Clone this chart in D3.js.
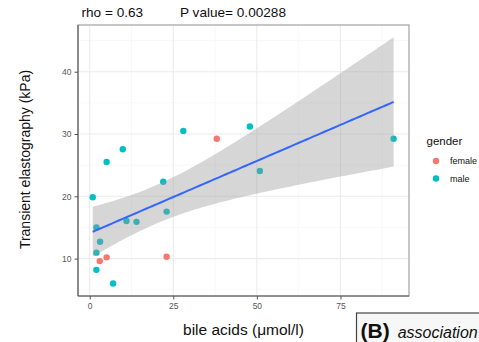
<!DOCTYPE html>
<html><head><meta charset="utf-8">
<script src="https://cdn.jsdelivr.net/npm/d3@7"></script>
<style>body{margin:0;background:#fff;} svg{display:block;font-family:"Liberation Sans",Arial,sans-serif;}</style>
</head><body>
<svg id="c" width="479" height="342"></svg>
<script>
// data
const bileAcids = [5.06, 9.9, 28.0, 38.0, 0.9, 22.0, 2.0, 11.0, 14.0, 23.0, 3.1, 2.0, 5.06, 3.0, 23.0, 2.0, 7.0, 47.9, 50.9, 90.9];
const elasto    = [25.5, 27.55, 30.5, 29.25, 19.85, 22.35, 15.0, 16.05, 15.9, 17.55, 12.7, 10.96, 10.2, 9.6, 10.3, 8.2, 6.0, 31.2, 24.07, 29.25];
const gender    = ["male","male","male","female","male","male","male","male","male","male","male","male","female","female","female","male","male","male","male","male"];
const genderLevels = ["female","male"];
const xTicks = [0, 25, 50, 75];
const yTicks = [10, 20, 30, 40];
const rhoText = "rho = 0.63";
const pText = "P value= 0.00288";

const svg = d3.select("#c");
const P = {l:78, r:409, t:25, b:296};
const x = d3.scaleLinear().domain([-3.5, 95.5]).range([P.l, P.r]);
const y = d3.scaleLinear().domain([4.0, 47.5]).range([P.b, P.t]);
const color = d3.scaleOrdinal().domain(genderLevels).range(["#F8766D", "#00BFC4"]);

// grid
const g = svg.append("g");
g.append("rect").attr("x",P.l).attr("y",P.t).attr("width",P.r-P.l).attr("height",P.b-P.t).attr("fill","#fff");
const xMinor = [12.5, 37.5, 62.5, 87.5], yMinor = [5, 15, 25, 35, 45];
g.selectAll(".xm").data(xMinor).enter().append("line").attr("x1",d=>x(d)).attr("x2",d=>x(d)).attr("y1",P.t).attr("y2",P.b).attr("stroke","#f4f4f4").attr("stroke-width",0.6);
g.selectAll(".ym").data(yMinor).enter().append("line").attr("y1",d=>y(d)).attr("y2",d=>y(d)).attr("x1",P.l).attr("x2",P.r).attr("stroke","#f4f4f4").attr("stroke-width",0.6);
g.selectAll(".xM").data(xTicks).enter().append("line").attr("x1",d=>x(d)).attr("x2",d=>x(d)).attr("y1",P.t).attr("y2",P.b).attr("stroke","#ebebeb").attr("stroke-width",1.1);
g.selectAll(".yM").data(yTicks).enter().append("line").attr("y1",d=>y(d)).attr("y2",d=>y(d)).attr("x1",P.l).attr("x2",P.r).attr("stroke","#ebebeb").attr("stroke-width",1.1);

// points
const pts = bileAcids.map((v,i)=>({x:v, y:elasto[i], g:gender[i]}));
svg.append("g").selectAll("circle").data(pts).enter().append("circle")
  .attr("cx",d=>x(d.x)).attr("cy",d=>y(d.y)).attr("r",3.2).attr("fill",d=>color(d.g));

// linear fit with 95% CI (geom_smooth method = lm)
const n = pts.length;
const mx = d3.mean(bileAcids), my = d3.mean(elasto);
const sxx = d3.sum(bileAcids, v=>(v-mx)*(v-mx));
const sxy = d3.sum(pts, d=>(d.x-mx)*(d.y-my));
const slope = sxy/sxx, icpt = my - slope*mx;
const sse = d3.sum(pts, d=>Math.pow(d.y-(icpt+slope*d.x),2));
const s = Math.sqrt(sse/(n-2));
const tq = 2.100922; // t(0.975, df=18)
const xmin = d3.min(bileAcids), xmax = d3.max(bileAcids);
const grid = d3.range(80).map(i=>xmin + (xmax-xmin)*i/79);
const fit = grid.map(xv=>{
  const f = icpt + slope*xv;
  const se = s*Math.sqrt(1/n + (xv-mx)*(xv-mx)/sxx);
  return {x:xv, f:f, lo:f-tq*se, hi:f+tq*se};
});
svg.append("path").datum(fit)
  .attr("d", d3.area().x(d=>x(d.x)).y0(d=>y(d.lo)).y1(d=>y(d.hi)))
  .attr("fill","#999999").attr("fill-opacity",0.4);
svg.append("path").datum(fit)
  .attr("d", d3.line().x(d=>x(d.x)).y(d=>y(d.f)))
  .attr("fill","none").attr("stroke","#3366FF").attr("stroke-width",2);

// border
svg.append("rect").attr("x",P.l).attr("y",P.t).attr("width",P.r-P.l).attr("height",P.b-P.t)
  .attr("fill","none").attr("stroke","#9a9a9a").attr("stroke-width",1.1);
svg.append("line").attr("x1",P.l).attr("x2",P.l).attr("y1",P.t).attr("y2",P.b).attr("stroke","#5a5a5a").attr("stroke-width",1.1);
svg.append("line").attr("x1",P.l).attr("x2",P.r).attr("y1",P.b).attr("y2",P.b).attr("stroke","#5a5a5a").attr("stroke-width",1.1);

// axes
const xa = svg.append("g").attr("transform",`translate(0,${P.b})`)
  .call(d3.axisBottom(x).tickValues(xTicks).tickSize(3.5).tickPadding(3));
const ya = svg.append("g").attr("transform",`translate(${P.l},0)`)
  .call(d3.axisLeft(y).tickValues(yTicks).tickSize(3.5).tickPadding(3));
[xa, ya].forEach(a=>{
  a.select(".domain").remove();
  a.selectAll(".tick line").attr("stroke","#555").attr("stroke-width",1);
  a.selectAll(".tick text").attr("fill","#555").style("font-size","8.5px").style("font-family","Liberation Sans, Arial, sans-serif");
});

// titles
svg.append("text").attr("x",(P.l+P.r)/2).attr("y",334.5).attr("text-anchor","middle")
  .style("font-size","15.5px").attr("fill","#111").text("bile acids (μmol/l)");
svg.append("text").attr("transform",`translate(30,${(P.t+P.b)/2 - 1}) rotate(-90)`).attr("text-anchor","middle")
  .style("font-size","14px").attr("fill","#111").text("Transient elastography (kPa)");
svg.append("text").attr("x",81.5).attr("y",17).style("font-size","13.6px").attr("fill","#111").text(rhoText);
svg.append("text").attr("x",180).attr("y",17).style("font-size","13.6px").attr("fill","#111").text(pText);

// legend
const lg = svg.append("g");
lg.append("text").attr("x",426.5).attr("y",145).style("font-size","11.5px").attr("fill","#111").text("gender");
genderLevels.forEach((k,i)=>{
  const cy = 161 + i*17.5;
  lg.append("circle").attr("cx",436).attr("cy",cy).attr("r",3.2).attr("fill",color(k));
  lg.append("text").attr("x",450).attr("y",cy+3).style("font-size","9px").attr("fill","#111").text(k);
});

// panel label box
svg.append("rect").attr("x",356.5).attr("y",313).attr("width",140).attr("height",40)
  .attr("fill","#f7f7f7").attr("stroke","#444").attr("stroke-width",1.2);
const lbl = svg.append("text").attr("x",360.5).attr("y",337.5).attr("fill","#111");
lbl.append("tspan").style("font-size","21px").style("font-weight","bold").text("(B)");
lbl.append("tspan").attr("dx",8).style("font-size","16px").style("font-style","italic").text("association");
</script>
</body></html>
